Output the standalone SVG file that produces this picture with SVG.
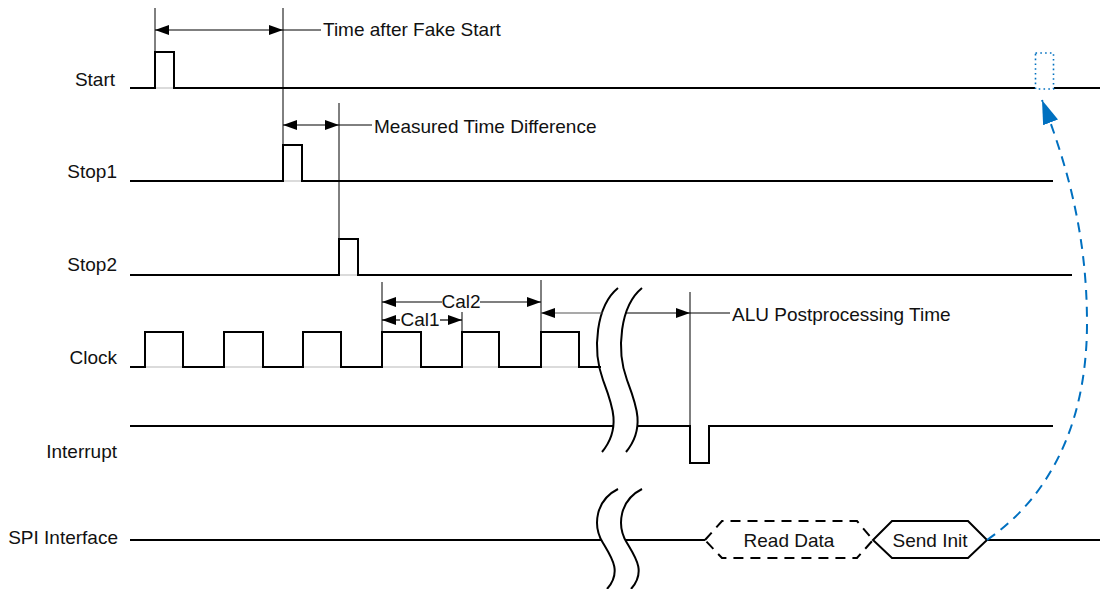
<svg xmlns="http://www.w3.org/2000/svg" width="1100" height="589" viewBox="0 0 1100 589">
<style>
.sig{fill:none;stroke:#000;stroke-width:2}
.thin{fill:none;stroke:#000;stroke-width:1}
.under{fill:none;stroke:#cfcfcf;stroke-width:1.5}
.brk{fill:none;stroke:#000;stroke-width:2}
.lbl{font-family:"Liberation Sans",Arial,sans-serif;font-size:19px;fill:#111}
.dim{fill:none;stroke:#000;stroke-width:1.2}
.both{marker-start:url(#ah);marker-end:url(#ah)}
.end{marker-end:url(#ah)}
</style>
<defs>
<marker id="ah" viewBox="0 0 14 10" refX="14" refY="5" markerWidth="14" markerHeight="10" markerUnits="userSpaceOnUse" orient="auto-start-reverse"><path d="M0,0 L14,5 L0,10 z" fill="#000"/></marker>
<marker id="bh" viewBox="0 0 24 16" refX="24" refY="8" markerWidth="24" markerHeight="16" markerUnits="userSpaceOnUse" orient="auto"><path d="M0,0 L24,8 L0,16 z" fill="#0070C0"/></marker>
</defs>
<rect width="1100" height="589" fill="#fff"/>

<g id="start">
<text class="lbl" x="115" y="86" text-anchor="end">Start</text>
<path class="sig" d="M130,88 H155 V52 H174 V88 H1035"/>
<line class="under" x1="156" y1="88" x2="173" y2="88"/>
<path class="sig" d="M1054,88 H1100"/>
<rect x="1035.5" y="53" width="18" height="36" fill="none" stroke="#0070C0" stroke-width="1.6" stroke-dasharray="1.6 3.2"/>
</g>

<g id="stop1">
<text class="lbl" x="117" y="178" text-anchor="end">Stop1</text>
<path class="sig" d="M130,181 H283 V145 H302 V181 H1053"/>
<line class="under" x1="284" y1="181" x2="301" y2="181"/>
</g>

<g id="stop2">
<text class="lbl" x="117" y="271" text-anchor="end">Stop2</text>
<path class="sig" d="M130,275 H339 V239 H358 V275 H1072"/>
<line class="under" x1="340" y1="275" x2="357" y2="275"/>
</g>

<g id="clock">
<text class="lbl" x="117" y="364" text-anchor="end">Clock</text>
<path class="sig" d="M130,367 H145 V332 H183 V367 H224 V332 H263 V367 H303 V332 H341 V367 H382 V332 H421 V367 H462 V332 H499 V367 H541 V332 H579 V367 H601"/>
<g class="under">
<line x1="146" y1="367" x2="182" y2="367"/><line x1="225" y1="367" x2="262" y2="367"/><line x1="304" y1="367" x2="340" y2="367"/><line x1="383" y1="367" x2="420" y2="367"/><line x1="463" y1="367" x2="498" y2="367"/><line x1="542" y1="367" x2="578" y2="367"/>
</g>
</g>

<g id="interrupt">
<text class="lbl" x="117" y="458" text-anchor="end">Interrupt</text>
<path class="sig" d="M130,426 H614"/>
<path class="sig" d="M638,426 H690 V463 H709 V426 H1053"/>
</g>

<g id="spi">
<text class="lbl" x="118" y="544" text-anchor="end">SPI Interface</text>
<path class="sig" d="M130,540 H602"/>
<path class="sig" d="M626,540 H705"/>
<path d="M705,540 L722,521 H857 L873,540 L857,558 H722 Z" fill="none" stroke="#000" stroke-width="2" stroke-dasharray="10 7"/>
<path d="M873,540 L892,521 H968 L987,540 L968,558 H892 Z" fill="none" stroke="#000" stroke-width="2"/>
<path class="sig" d="M987,540 H1100"/>
<text class="lbl" x="789" y="547" text-anchor="middle">Read Data</text>
<text class="lbl" x="930" y="547" text-anchor="middle">Send Init</text>
</g>

<g id="breaks">
<path class="brk" d="M618,288 C596,306 592,350 603,380 C612,404 622,428 602,452"/>
<path class="brk" d="M642,288 C620,306 616,350 627,380 C636,404 646,428 626,452"/>
<path class="brk" d="M618,489 C596,500 592,525 603,543 C612,558 622,572 607,589"/>
<path class="brk" d="M642,489 C620,500 616,525 627,543 C636,558 646,572 631,589"/>
</g>

<g id="connectors">
<line class="thin" x1="155" y1="8" x2="155" y2="52"/>
<line class="thin" x1="283" y1="8" x2="283" y2="145"/>
<line class="dim both" x1="155" y1="30" x2="283" y2="30"/>
<line class="thin" x1="283" y1="30" x2="321" y2="30"/>
<text class="lbl" x="323" y="36">Time after Fake Start</text>

<line class="thin" x1="339" y1="103" x2="339" y2="239"/>
<line class="dim both" x1="283" y1="125" x2="339" y2="125"/>
<line class="thin" x1="339" y1="125" x2="372" y2="125"/>
<text class="lbl" x="374" y="133">Measured Time Difference</text>

<line class="thin" x1="382" y1="282" x2="382" y2="332"/>
<line class="thin" x1="462" y1="312" x2="462" y2="332"/>
<line class="thin" x1="541" y1="280" x2="541" y2="332"/>
<line class="dim end" x1="442" y1="302" x2="382" y2="302"/>
<line class="dim end" x1="480" y1="302" x2="541" y2="302"/>
<text class="lbl" x="461" y="308" text-anchor="middle">Cal2</text>
<line class="dim end" x1="400" y1="320" x2="382" y2="320"/>
<line class="dim end" x1="440" y1="320" x2="462" y2="320"/>
<text class="lbl" x="420" y="326" text-anchor="middle">Cal1</text>

<line x1="603" y1="313" x2="541" y2="313" stroke="#555" stroke-width="1.2" marker-end="url(#ah)"/>
<line class="dim end" x1="625" y1="313" x2="690" y2="313"/>
<line class="thin" x1="690" y1="292" x2="690" y2="426"/>
<line class="thin" x1="690" y1="313" x2="730" y2="313"/>
<text class="lbl" x="732" y="321">ALU Postprocessing Time</text>

<path d="M987,540 C1045,500 1087,430 1087,323 C1087,230 1065,160 1042,100" fill="none" stroke="#0070C0" stroke-width="2" stroke-dasharray="10 7" marker-end="url(#bh)"/>
</g>
</svg>
